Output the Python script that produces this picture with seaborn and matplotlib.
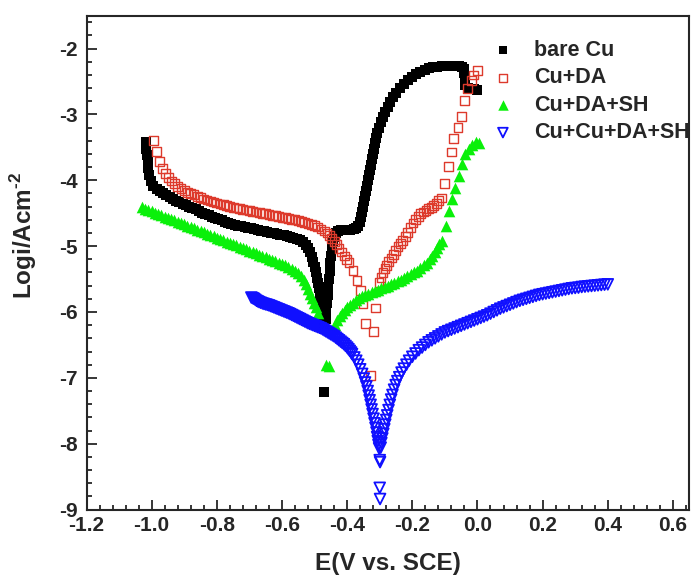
import matplotlib
matplotlib.use('Agg')
import pandas as pd
import matplotlib.pyplot as plt
import seaborn as sns
from matplotlib.ticker import MultipleLocator

# potential (V vs SCE), log i
bare_cu = [
    (-1.018, -3.42), (-1.016, -3.52), (-1.014, -3.62), (-1.012, -3.72), (-1.010, -3.82), (-1.007, -3.92),
    (-1.003, -4.01), (-0.995, -4.08), (-0.985, -4.13), (-0.975, -4.17), (-0.965, -4.20), (-0.955, -4.23),
    (-0.945, -4.26), (-0.935, -4.29), (-0.925, -4.31), (-0.915, -4.33), (-0.905, -4.36), (-0.895, -4.38),
    (-0.885, -4.40), (-0.875, -4.42), (-0.865, -4.44), (-0.855, -4.47), (-0.845, -4.49), (-0.835, -4.51),
    (-0.825, -4.53), (-0.815, -4.55), (-0.805, -4.57), (-0.795, -4.59), (-0.785, -4.61), (-0.775, -4.63),
    (-0.765, -4.645), (-0.755, -4.66), (-0.745, -4.675), (-0.735, -4.69), (-0.725, -4.70), (-0.715, -4.71),
    (-0.705, -4.72), (-0.695, -4.73), (-0.685, -4.745), (-0.675, -4.755), (-0.665, -4.765), (-0.655, -4.775),
    (-0.645, -4.785), (-0.635, -4.795), (-0.625, -4.805), (-0.615, -4.815), (-0.605, -4.825), (-0.595, -4.835),
    (-0.585, -4.845), (-0.575, -4.86), (-0.565, -4.875), (-0.555, -4.89), (-0.545, -4.91), (-0.535, -4.94),
    (-0.527, -4.98), (-0.520, -5.03), (-0.514, -5.09), (-0.509, -5.16), (-0.504, -5.24), (-0.500, -5.32),
    (-0.496, -5.40), (-0.493, -5.48), (-0.490, -5.56), (-0.487, -5.64), (-0.484, -5.72), (-0.481, -5.80),
    (-0.478, -5.88), (-0.476, -5.96), (-0.474, -6.04), (-0.472, -6.12), (-0.471, -6.19), (-0.472, -7.22),
    (-0.466, -6.10), (-0.464, -5.98), (-0.462, -5.86), (-0.460, -5.74), (-0.458, -5.62), (-0.456, -5.50),
    (-0.454, -5.38), (-0.452, -5.26), (-0.450, -5.15), (-0.447, -5.04), (-0.444, -4.94), (-0.440, -4.86),
    (-0.435, -4.80), (-0.428, -4.77), (-0.420, -4.76), (-0.410, -4.76), (-0.400, -4.755), (-0.390, -4.75),
    (-0.380, -4.745), (-0.372, -4.73), (-0.366, -4.70), (-0.362, -4.64), (-0.358, -4.56), (-0.355, -4.48),
    (-0.352, -4.40), (-0.349, -4.32), (-0.346, -4.24), (-0.343, -4.16), (-0.340, -4.08), (-0.337, -4.00),
    (-0.334, -3.92), (-0.331, -3.84), (-0.328, -3.76), (-0.325, -3.68), (-0.322, -3.60), (-0.319, -3.52),
    (-0.315, -3.44), (-0.311, -3.36), (-0.307, -3.28), (-0.302, -3.20), (-0.297, -3.12), (-0.291, -3.04),
    (-0.284, -2.96), (-0.276, -2.88), (-0.268, -2.81), (-0.259, -2.74), (-0.249, -2.67), (-0.238, -2.60),
    (-0.226, -2.54), (-0.214, -2.48), (-0.201, -2.43), (-0.188, -2.39), (-0.175, -2.35), (-0.162, -2.32),
    (-0.149, -2.30), (-0.136, -2.285), (-0.123, -2.275), (-0.110, -2.265), (-0.097, -2.26), (-0.084, -2.26),
    (-0.071, -2.26), (-0.058, -2.265), (-0.048, -2.28), (-0.042, -2.31), (-0.040, -2.37), (-0.039, -2.43),
    (-0.038, -2.50), (-0.037, -2.56), (-0.030, -2.60), (-0.020, -2.61), (-0.010, -2.62), (0.000, -2.63),
]

cu_da = [
    (-0.995, -3.40), (-0.985, -3.56), (-0.975, -3.71), (-0.966, -3.82), (-0.957, -3.90), (-0.948, -3.96),
    (-0.939, -4.01), (-0.930, -4.05), (-0.920, -4.09), (-0.910, -4.12), (-0.900, -4.15), (-0.890, -4.18),
    (-0.880, -4.20), (-0.870, -4.22), (-0.860, -4.245), (-0.850, -4.265), (-0.840, -4.285), (-0.830, -4.30),
    (-0.820, -4.315), (-0.810, -4.33), (-0.800, -4.345), (-0.790, -4.36), (-0.780, -4.37), (-0.770, -4.385),
    (-0.760, -4.395), (-0.750, -4.41), (-0.740, -4.42), (-0.730, -4.43), (-0.720, -4.44), (-0.710, -4.45),
    (-0.700, -4.46), (-0.690, -4.47), (-0.680, -4.48), (-0.670, -4.49), (-0.660, -4.50), (-0.650, -4.51),
    (-0.640, -4.52), (-0.630, -4.53), (-0.620, -4.54), (-0.610, -4.55), (-0.600, -4.56), (-0.590, -4.57),
    (-0.580, -4.58), (-0.570, -4.59), (-0.560, -4.60), (-0.550, -4.61), (-0.540, -4.625), (-0.530, -4.64),
    (-0.520, -4.655), (-0.510, -4.67), (-0.500, -4.69), (-0.490, -4.71), (-0.480, -4.74), (-0.470, -4.77),
    (-0.462, -4.80), (-0.455, -4.84), (-0.448, -4.88), (-0.440, -4.93), (-0.432, -4.98), (-0.425, -5.03),
    (-0.417, -5.09), (-0.409, -5.15), (-0.401, -5.20), (-0.394, -5.25), (-0.382, -5.37), (-0.370, -5.52),
    (-0.360, -5.67), (-0.351, -5.88), (-0.343, -6.17), (-0.328, -6.97), (-0.320, -6.30), (-0.312, -5.94),
    (-0.302, -5.55), (-0.296, -5.48), (-0.290, -5.40), (-0.284, -5.34), (-0.278, -5.29), (-0.272, -5.23),
    (-0.265, -5.18), (-0.258, -5.13), (-0.251, -5.07), (-0.244, -5.01), (-0.237, -4.96), (-0.230, -4.91),
    (-0.222, -4.85), (-0.214, -4.79), (-0.206, -4.72), (-0.198, -4.65), (-0.190, -4.59), (-0.182, -4.55),
    (-0.174, -4.51), (-0.166, -4.48), (-0.158, -4.46), (-0.150, -4.43), (-0.142, -4.41), (-0.134, -4.38),
    (-0.126, -4.35), (-0.119, -4.31), (-0.111, -4.27), (-0.100, -4.05), (-0.090, -3.79), (-0.080, -3.57),
    (-0.073, -3.36), (-0.060, -3.20), (-0.049, -3.03), (-0.039, -2.79), (-0.030, -2.60), (-0.019, -2.48),
    (-0.012, -2.40), (0.000, -2.33),
]

cu_da_sh = [
    (-1.030, -4.40), (-1.020, -4.43), (-1.010, -4.45), (-1.000, -4.47), (-0.990, -4.49), (-0.980, -4.51),
    (-0.970, -4.53), (-0.960, -4.55), (-0.950, -4.57), (-0.940, -4.59), (-0.930, -4.61), (-0.920, -4.63),
    (-0.910, -4.65), (-0.900, -4.67), (-0.890, -4.69), (-0.880, -4.71), (-0.870, -4.73), (-0.860, -4.75),
    (-0.850, -4.77), (-0.840, -4.79), (-0.830, -4.81), (-0.820, -4.83), (-0.810, -4.85), (-0.800, -4.87),
    (-0.790, -4.89), (-0.780, -4.91), (-0.770, -4.93), (-0.760, -4.95), (-0.750, -4.97), (-0.740, -4.99),
    (-0.730, -5.01), (-0.720, -5.03), (-0.710, -5.05), (-0.700, -5.07), (-0.690, -5.09), (-0.680, -5.11),
    (-0.670, -5.13), (-0.660, -5.15), (-0.650, -5.17), (-0.640, -5.19), (-0.630, -5.21), (-0.620, -5.23),
    (-0.610, -5.25), (-0.600, -5.27), (-0.590, -5.29), (-0.580, -5.31), (-0.570, -5.34), (-0.560, -5.37),
    (-0.550, -5.41), (-0.541, -5.46), (-0.533, -5.52), (-0.526, -5.58), (-0.519, -5.65), (-0.513, -5.72),
    (-0.507, -5.79), (-0.501, -5.86), (-0.495, -5.93), (-0.489, -6.01), (-0.465, -6.80), (-0.455, -6.82),
    (-0.437, -6.20), (-0.430, -6.12), (-0.423, -6.06), (-0.416, -6.01), (-0.408, -5.97), (-0.400, -5.93),
    (-0.392, -5.89), (-0.383, -5.86), (-0.374, -5.82), (-0.365, -5.79), (-0.355, -5.76), (-0.345, -5.74),
    (-0.335, -5.72), (-0.325, -5.70), (-0.315, -5.68), (-0.305, -5.66), (-0.295, -5.64), (-0.285, -5.62),
    (-0.275, -5.60), (-0.265, -5.58), (-0.255, -5.56), (-0.245, -5.53), (-0.235, -5.51), (-0.225, -5.48),
    (-0.215, -5.46), (-0.205, -5.43), (-0.195, -5.40), (-0.185, -5.37), (-0.175, -5.33), (-0.165, -5.29),
    (-0.156, -5.25), (-0.147, -5.20), (-0.139, -5.15), (-0.131, -5.09), (-0.124, -5.03), (-0.118, -4.97),
    (-0.108, -4.92), (-0.098, -4.69), (-0.088, -4.46), (-0.078, -4.28), (-0.068, -4.11), (-0.057, -3.93),
    (-0.047, -3.75), (-0.037, -3.60), (-0.027, -3.52), (-0.017, -3.47), (-0.006, -3.42), (0.004, -3.44),
]

cu_cu_da_sh = [
    (-0.694, -5.78), (-0.690, -5.79), (-0.686, -5.80), (-0.682, -5.815), (-0.678, -5.83), (-0.674, -5.84),
    (-0.670, -5.85), (-0.665, -5.86), (-0.660, -5.87), (-0.655, -5.878), (-0.650, -5.885), (-0.645, -5.892),
    (-0.640, -5.90), (-0.635, -5.91), (-0.630, -5.92), (-0.625, -5.93), (-0.620, -5.94), (-0.615, -5.95),
    (-0.610, -5.96), (-0.605, -5.97), (-0.600, -5.98), (-0.595, -5.99), (-0.590, -6.00), (-0.585, -6.01),
    (-0.580, -6.02), (-0.575, -6.032), (-0.570, -6.045), (-0.565, -6.057), (-0.560, -6.07), (-0.555, -6.082),
    (-0.550, -6.095), (-0.545, -6.107), (-0.540, -6.12), (-0.535, -6.132), (-0.530, -6.145), (-0.525, -6.157),
    (-0.520, -6.17), (-0.515, -6.18), (-0.510, -6.19), (-0.505, -6.20), (-0.500, -6.21), (-0.495, -6.22),
    (-0.490, -6.23), (-0.485, -6.24), (-0.480, -6.25), (-0.475, -6.265), (-0.470, -6.28), (-0.465, -6.295),
    (-0.460, -6.31), (-0.455, -6.325), (-0.450, -6.34), (-0.445, -6.355), (-0.440, -6.37), (-0.435, -6.39),
    (-0.430, -6.41), (-0.425, -6.43), (-0.420, -6.45), (-0.415, -6.47), (-0.410, -6.49), (-0.405, -6.515),
    (-0.400, -6.54), (-0.396, -6.565), (-0.392, -6.59), (-0.388, -6.615), (-0.385, -6.64), (-0.378, -6.69),
    (-0.372, -6.74), (-0.366, -6.80), (-0.360, -6.87), (-0.354, -6.94), (-0.349, -7.01), (-0.345, -7.07),
    (-0.341, -7.13), (-0.337, -7.20), (-0.334, -7.27), (-0.331, -7.34), (-0.328, -7.41), (-0.325, -7.48),
    (-0.322, -7.55), (-0.319, -7.62), (-0.316, -7.69), (-0.313, -7.76), (-0.310, -7.83), (-0.308, -7.90),
    (-0.306, -7.96), (-0.304, -8.02), (-0.302, -8.07), (-0.300, -8.25), (-0.299, -8.28), (-0.300, -8.67),
    (-0.299, -8.84),
    (-0.297, -8.06), (-0.295, -7.99), (-0.292, -7.92), (-0.289, -7.85), (-0.286, -7.78), (-0.283, -7.71),
    (-0.280, -7.64), (-0.277, -7.57), (-0.273, -7.49), (-0.269, -7.41), (-0.265, -7.33), (-0.261, -7.26),
    (-0.256, -7.18), (-0.251, -7.11), (-0.246, -7.05), (-0.240, -6.99), (-0.233, -6.92), (-0.226, -6.86),
    (-0.218, -6.80), (-0.210, -6.74), (-0.200, -6.68), (-0.190, -6.63), (-0.180, -6.58), (-0.170, -6.54),
    (-0.160, -6.50), (-0.150, -6.46), (-0.140, -6.43), (-0.130, -6.40), (-0.120, -6.37), (-0.110, -6.34),
    (-0.100, -6.31), (-0.090, -6.29), (-0.080, -6.27), (-0.070, -6.25), (-0.060, -6.23), (-0.050, -6.21),
    (-0.040, -6.19), (-0.030, -6.17), (-0.020, -6.15), (-0.010, -6.13), (0.000, -6.11), (0.010, -6.09),
    (0.020, -6.07), (0.030, -6.05), (0.040, -6.025), (0.050, -6.00), (0.060, -5.975), (0.070, -5.95),
    (0.080, -5.93), (0.090, -5.91), (0.100, -5.89), (0.110, -5.87), (0.120, -5.85), (0.130, -5.83),
    (0.140, -5.815), (0.150, -5.80), (0.160, -5.785), (0.170, -5.77), (0.180, -5.755), (0.190, -5.74),
    (0.200, -5.73), (0.210, -5.72), (0.220, -5.71), (0.230, -5.70), (0.240, -5.69), (0.250, -5.68),
    (0.260, -5.67), (0.270, -5.66), (0.280, -5.65), (0.290, -5.64), (0.300, -5.635), (0.310, -5.63),
    (0.320, -5.62), (0.330, -5.615), (0.340, -5.61), (0.350, -5.605), (0.360, -5.60), (0.370, -5.595),
    (0.380, -5.59), (0.390, -5.585), (0.400, -5.58),
]

labels = ['bare Cu', 'Cu+DA', 'Cu+DA+SH', 'Cu+Cu+DA+SH']
x_ticks = [-1.2, -1.0, -0.8, -0.6, -0.4, -0.2, 0.0, 0.2, 0.4, 0.6]
y_ticks = [-9, -8, -7, -6, -5, -4, -3, -2]

sns.set_style('ticks')
plt.rcParams['font.family'] = ['Liberation Sans', 'DejaVu Sans']
plt.rcParams['font.weight'] = 'bold'
plt.rcParams['axes.unicode_minus'] = False
plt.rcParams['mathtext.fontset'] = 'custom'
plt.rcParams['mathtext.bf'] = 'Liberation Sans:bold'
plt.rcParams['mathtext.rm'] = 'Liberation Sans:bold'

fig, ax = plt.subplots(figsize=(6.92, 5.81), dpi=100)
fig.subplots_adjust(left=0.125, right=0.996, top=0.973, bottom=0.123)

def frame(pts):
    return pd.DataFrame(pts, columns=['E', 'logi'])

# 黑色實心方塊
sns.scatterplot(data=frame(bare_cu), x='E', y='logi', ax=ax, marker='s', s=42,
                color='black', edgecolor='black', linewidth=0, label=labels[0])
# 紅色空心方塊
sns.scatterplot(data=frame(cu_da), x='E', y='logi', ax=ax, marker='s', s=40,
                color='#dd3a2c', facecolor='none', edgecolor='#dd3a2c', linewidth=1.0, label=labels[1])
# 綠色三角形
sns.scatterplot(data=frame(cu_da_sh), x='E', y='logi', ax=ax, marker='^', s=70,
                color='#0af00a', edgecolor='#0af00a', linewidth=0, label=labels[2])
# 藍色空心倒三角
sns.scatterplot(data=frame(cu_cu_da_sh), x='E', y='logi', ax=ax, marker='v', s=60,
                color='#1010ff', facecolor='none', edgecolor='#1010ff', linewidth=1.3, label=labels[3])

ax.set_xlim(-1.2, 0.65)
ax.set_ylim(-9, -1.5)
ax.set_xticks(x_ticks)
ax.set_xticklabels([f'{v:.1f}' for v in x_ticks])
ax.set_yticks(y_ticks)
ax.xaxis.set_minor_locator(MultipleLocator(0.04))
ax.yaxis.set_minor_locator(MultipleLocator(0.2))
ax.tick_params(which='both', direction='in', top=False, right=False, width=1.3, labelsize=15)
ax.tick_params(which='major', length=7)
ax.tick_params(which='minor', length=3.6)
ax.tick_params(axis='x', pad=5)
ax.tick_params(axis='y', pad=6.5)
for sp in ax.spines.values():
    sp.set_linewidth(1.5)
    sp.set_visible(True)

ax.set_xlabel('E(V vs. SCE)', fontsize=17.5, fontweight='bold', labelpad=12)
ax.set_ylabel('Logi/Acm$^{\\text{-2}}$', fontsize=17.5, fontweight='bold', labelpad=14, y=0.556)

ax.legend(loc='upper left', bbox_to_anchor=(0.673, 0.951), frameon=False, fontsize=15.5,
          handlelength=1.0, handletextpad=0.94, borderpad=0, borderaxespad=0, labelspacing=0.3,
          markerscale=0.9)

fig.savefig('out.png', dpi=100)
